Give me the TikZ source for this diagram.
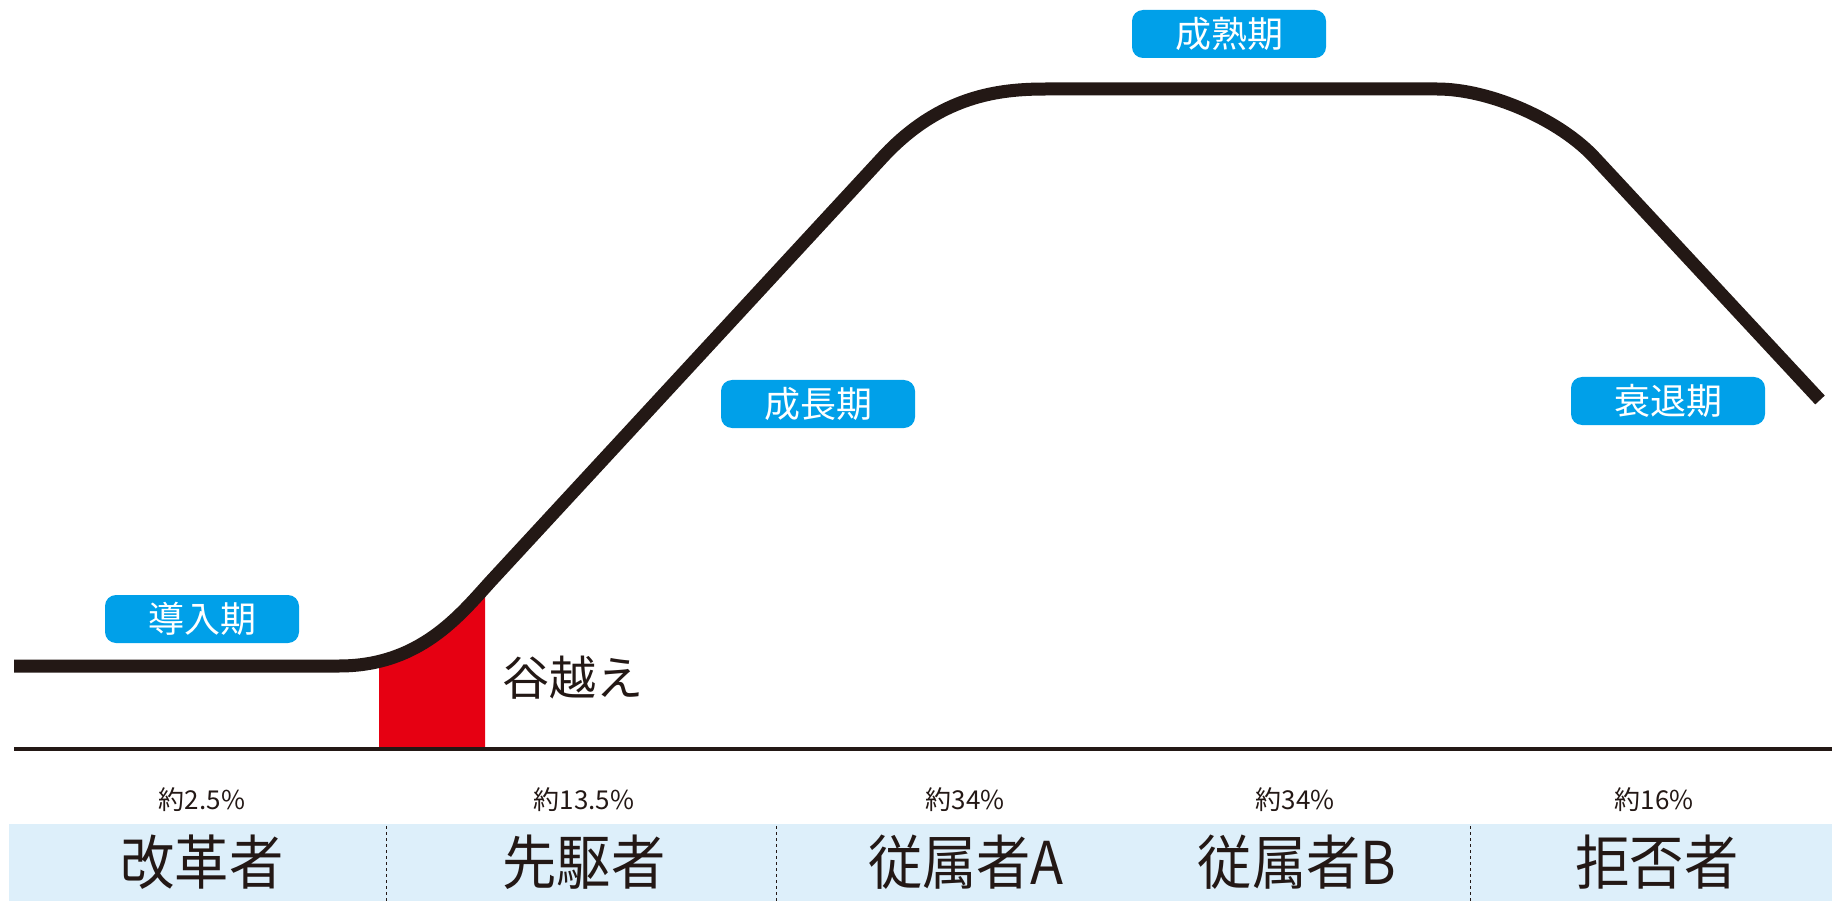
\documentclass[tikz,border=0pt]{standalone}
\usepackage{fontspec}
\usepackage{xcolor}
\usepackage{tikz}
\newfontfamily\jp{Noto Sans CJK JP}
\definecolor{ink}{HTML}{231815}
\definecolor{phaseblue}{HTML}{00A0E9}
\definecolor{bandblue}{HTML}{DDEFFA}
\definecolor{gapred}{HTML}{E60012}

\begin{document}
\begin{tikzpicture}[x=1pt,y=-1pt,
   phase/.style={fill=phaseblue,rounded corners=11pt,text=white,inner sep=0pt,
      minimum width=194pt,minimum height=48pt,font=\jp\fontsize{36}{36}\selectfont},
   pct/.style={text=ink,inner sep=0pt,font=\jp\fontsize{26}{26}\selectfont},
   group/.style={text=ink,inner sep=0pt,xscale=0.92,font=\jp\fontsize{59}{59}\selectfont},
   sep/.style={ink,line width=0.8pt,dash pattern=on 3pt off 3pt}]
   \useasboundingbox (0,0) rectangle (1832,901);
   % red valley under the curve
   \begin{scope}
     \clip (379,0) rectangle (485,749);
     \fill[gapred] (339,666) .. controls (420,666) and (460,615) .. (491,581)
        -- (491,749) -- (339,749) -- cycle;
   \end{scope}
   % life cycle curve
   \draw[ink,line width=13pt,line join=round] (14,666) -- (339,666)
      .. controls (420,666) and (460,615) .. (491,581) -- (882,158)
      .. controls (940,95) and (1000,89) .. (1046,89) -- (1437,89)
      .. controls (1490,89) and (1560,120) .. (1595,158) -- (1820,400);
   % axis
   \coordinate (axl) at (14,749);
   \coordinate (axr) at (1832,749);
   \draw[ink,line width=3.5pt] (axl) -- (axr);
   \node[text=ink,inner sep=0pt,font=\jp\fontsize{47}{47}\selectfont] (gap) at (573,678) {谷越え};
   % phases
   \node[phase] (intro)  at (202,619) {導入期};
   \node[phase] (growth) at (818,404) {成長期};
   \node[phase] (mature) at (1229,34) {成熟期};
   \node[phase] (decline) at (1668,401) {衰退期};
   % adopter groups
   \fill[bandblue] (9,824) rectangle (1832,901);
   \coordinate (s1t) at (386,826); \coordinate (s1b) at (386,901);
   \coordinate (s2t) at (776,826); \coordinate (s2b) at (776,901);
   \coordinate (s3t) at (1470,826); \coordinate (s3b) at (1470,901);
   \draw[sep] (s1t) -- (s1b);
   \draw[sep] (s2t) -- (s2b);
   \draw[sep] (s3t) -- (s3b);
   \node[pct] (p1) at (202,800) {約2.5\%};
   \node[pct] (p2) at (584,800) {約13.5\%};
   \node[pct] (p3) at (965,800) {約34\%};
   \node[pct] (p4) at (1295,800) {約34\%};
   \node[pct] (p5) at (1654,800) {約16\%};
   \node[group] (g1) at (202,862) {改革者};
   \node[group] (g2) at (584,862) {先駆者};
   \node[group] (g3) at (966,862) {従属者A};
   \node[group] (g4) at (1297,862) {従属者B};
   \node[group] (g5) at (1657,862) {拒否者};
\end{tikzpicture}
\end{document}
